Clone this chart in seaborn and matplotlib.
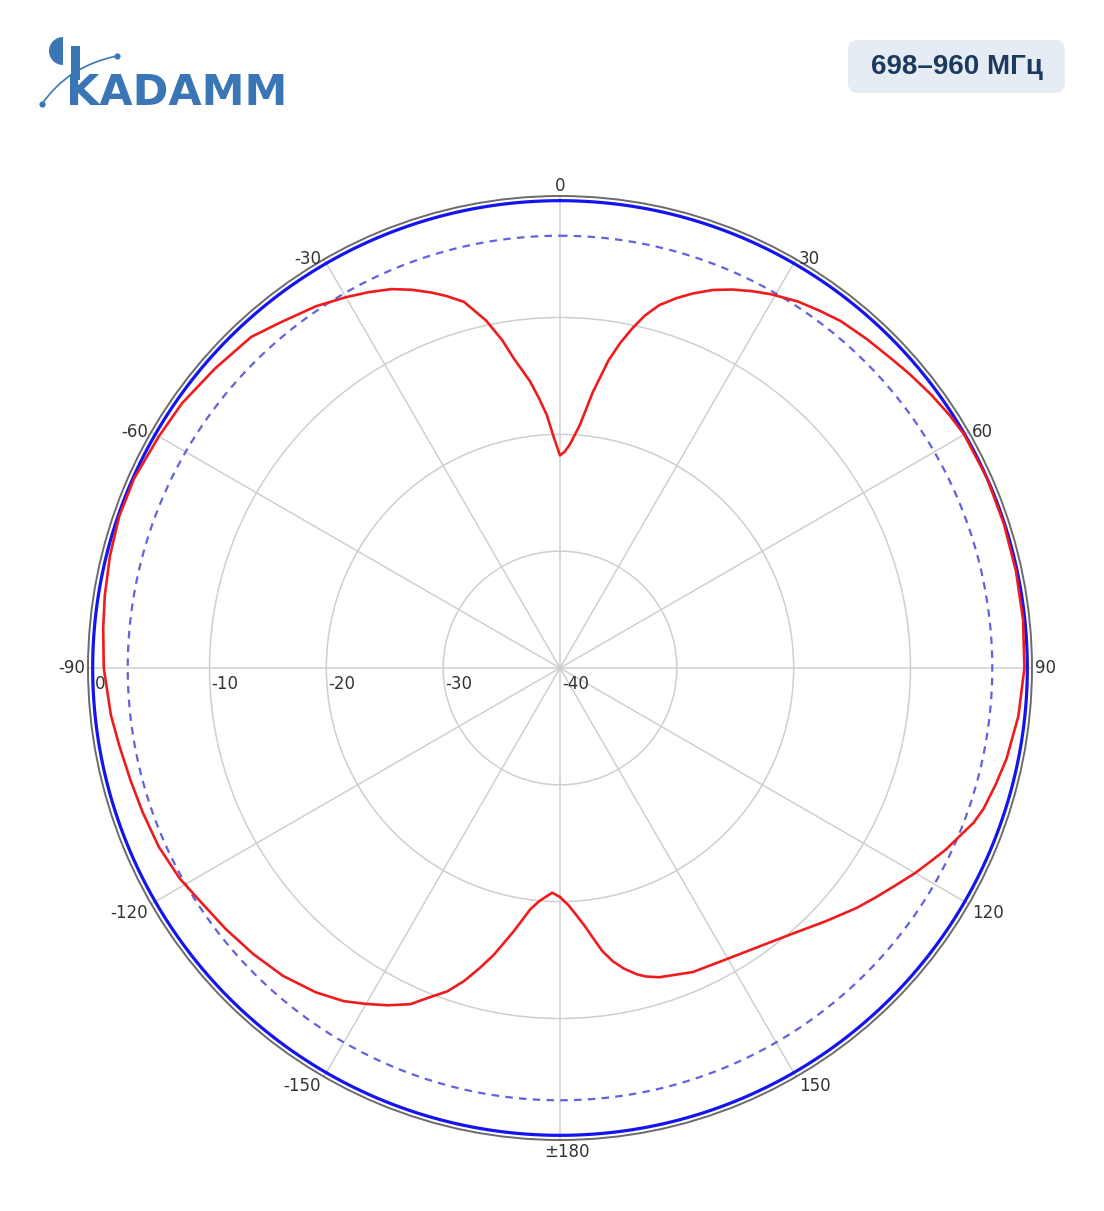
import numpy as np
import matplotlib
matplotlib.use("Agg")
import matplotlib.pyplot as plt
import seaborn as sns
from matplotlib.patches import FancyBboxPatch, Wedge, PathPatch, Rectangle
from matplotlib.path import Path
from matplotlib.transforms import offset_copy

# measured pattern (deg, dB)
red_deg = [-180, -178, -175, -173, -170, -167, -165, -163, -160.8, -158, -156, -153,
           -150, -147, -143, -138, -133, -128, -123, -119, -114, -109, -104.6, -100,
           -96, -90, -85, -81, -76, -71, -66, -60, -55, -49, -43, -39, -34, -30,
           -27, -24, -21.5, -19, -17, -14.7, -12, -10, -8.5, -6, -4.5, -3, -1.5, 0,
           1.2, 2.6, 4.7, 6.8, 9, 10.5, 12, 13.5, 15.3, 17.5, 19.5, 22, 24.5, 27,
           29.5, 33, 36, 39, 43, 47, 50, 53.6, 57, 60, 66, 72, 78, 84, 90, 96,
           101.5, 105, 108.4, 110.5, 112.5, 115.2, 117.5, 120, 123, 126, 129, 133.7,
           138.9, 144.5, 150.4, 156.4, 162.2, 164.5, 166, 168, 169.8, 171.5, 173,
           174.5, 176.2, 178, 180]
red_db = [-20.4, -20.75, -20.0, -19.2, -17.1, -14.8, -13.4, -12.0, -10.7, -9.5, -8.5, -7.6,
          -6.8, -6.0, -5.25, -4.55, -4.1, -3.7, -3.3, -2.8, -2.4, -2.2, -2.0, -1.7,
          -1.35, -0.95, -0.75, -0.55, -0.3, -0.1, -0.1, -0.35, -0.5, -0.9, -1.25, -1.95, -2.65, -3.35,
          -3.9, -4.5, -5.2, -6.0, -6.7, -7.6, -9.6, -11.5, -13.2, -15.3, -16.8, -18.3, -20.3, -21.8,
          -21.5, -20.8, -19.1, -16.2, -13.3, -11.7, -10.3, -9.0, -7.8, -6.8, -6.0, -5.1, -4.4, -3.8,
          -3.25, -2.6, -2.2, -1.8, -1.5, -1.2, -0.9, -0.55, -0.25, -0.05, 0.0, -0.05, -0.1, -0.15, -0.25, -0.55,
          -1.0, -1.4, -1.8, -2.2, -2.8, -3.5, -4.2, -4.9, -5.8, -6.6, -7.35, -8.6,
          -9.8, -10.7, -11.3, -11.6, -12.2, -12.6, -13.0, -13.7, -14.5, -15.5, -16.7,
          -17.8, -18.8, -19.7, -20.4]

max_level = 0.0      # blue solid reference
half_power = -3.0    # blue dashed reference
ring_vals = [-30, -20, -10]
r_labels = ["0", "-10", "-20", "-30", "-40"]
r_label_vals = [0, -10, -20, -30, -40]
ang_ticks = [0, 30, 60, 90, 120, 150, 180, -150, -120, -90, -60, -30]
ang_labels = ["0", "30", "60", "90", "120", "150", "±180", "-150", "-120", "-90", "-60", "-30"]

sns.set_style("white")
plt.rcParams["font.family"] = ["DejaVu Sans"]

W, H = 1104, 1211
fig = plt.figure(figsize=(W / 100, H / 100), dpi=100)

# header layer (pixel coords)
top = fig.add_axes([0, 0, 1, 1])
top.set_xlim(0, W)
top.set_ylim(H, 0)
top.axis("off")

logo_c = "#3a76b5"
top.add_patch(Wedge((63, 51), 14, 90, 270, fc=logo_c, ec="none"))
top.add_patch(Rectangle((70.5, 46), 9.5, 34, fc=logo_c, ec="none"))
arc = Path([(42, 104), (68, 66), (117, 56)], [Path.MOVETO, Path.CURVE3, Path.CURVE3])
top.add_patch(PathPatch(arc, fc="none", ec=logo_c, lw=1.2))
top.plot([42, 117], [104, 56], "o", color=logo_c, ms=3.5)
top.text(66, 105, "KADAMM", fontsize=31, fontweight="bold", color=logo_c,
         ha="left", va="baseline", family=["DejaVu Sans"])

top.add_patch(FancyBboxPatch((848, 40), 217, 53, boxstyle="round,pad=0,rounding_size=10",
                             fc="#e5ecf4", ec="none"))
top.text(956.5, 67, "698–960 МГц", fontsize=20, fontweight="bold", color="#1c3a5e",
         ha="center", va="center", family=["Liberation Sans", "DejaVu Sans"])

# polar chart
cx, cy, R = 560, 668, 472
ax = fig.add_axes([(cx - R) / W, 1 - (cy + R) / H, 2 * R / W, 2 * R / H], projection="polar")
ax.set_theta_zero_location("N")
ax.set_theta_direction(-1)
ax.set_ylim(-40, 0.4)
ax.set_yticks(ring_vals)
ax.set_yticklabels([])
ax.set_xticks(np.deg2rad(np.arange(0, 360, 30)))
ax.set_xticklabels([])
ax.grid(True, color="#cfcfcf", lw=1.1)
ax.spines["polar"].set_color("#6b6b6b")
ax.spines["polar"].set_linewidth(1.4)

circ = np.deg2rad(np.linspace(0, 360, 361))
sns.lineplot(x=circ, y=[max_level] * len(circ), ax=ax, sort=False, estimator=None,
             color="#1414f0", lw=2.3)
sns.lineplot(x=circ, y=[half_power] * len(circ), ax=ax, sort=False, estimator=None,
             color="#6262e0", lw=1.6, linestyle=(0, (3.4, 2.8)))
sns.lineplot(x=np.deg2rad(red_deg), y=red_db, ax=ax, sort=False, estimator=None,
             color="#ee1c1c", lw=1.9)
ax.set_xlabel("")
ax.set_ylabel("")

txt_c = "#333333"
for a, lab in zip(ang_ticks, ang_labels):
    t = np.deg2rad(a)
    if a == 0:
        ax.text(t, 0.5, lab, ha="center", va="bottom", fontsize=12, color=txt_c)
    elif a == 180:
        tr = offset_copy(ax.transData, fig=fig, x=7, y=-2, units="dots")
        ax.text(t, 0.5, lab, ha="center", va="top", fontsize=12, color=txt_c, transform=tr)
    else:
        ha = "left" if a > 0 else "right"
        va = "center" if abs(a) <= 90 else "top"
        dx = 3 if a > 0 else -3
        tr = offset_copy(ax.transData, fig=fig, x=dx, y=0, units="dots")
        ax.text(t, 0.4, lab, ha=ha, va=va, fontsize=12, color=txt_c, transform=tr)

tr = offset_copy(ax.transData, fig=fig, x=2, y=-7, units="dots")
for v, lab in zip(r_label_vals, r_labels):
    ax.text(np.deg2rad(-90), v, lab, ha="left", va="top", fontsize=12, color=txt_c, transform=tr)

fig.savefig("out.png", dpi=100)
